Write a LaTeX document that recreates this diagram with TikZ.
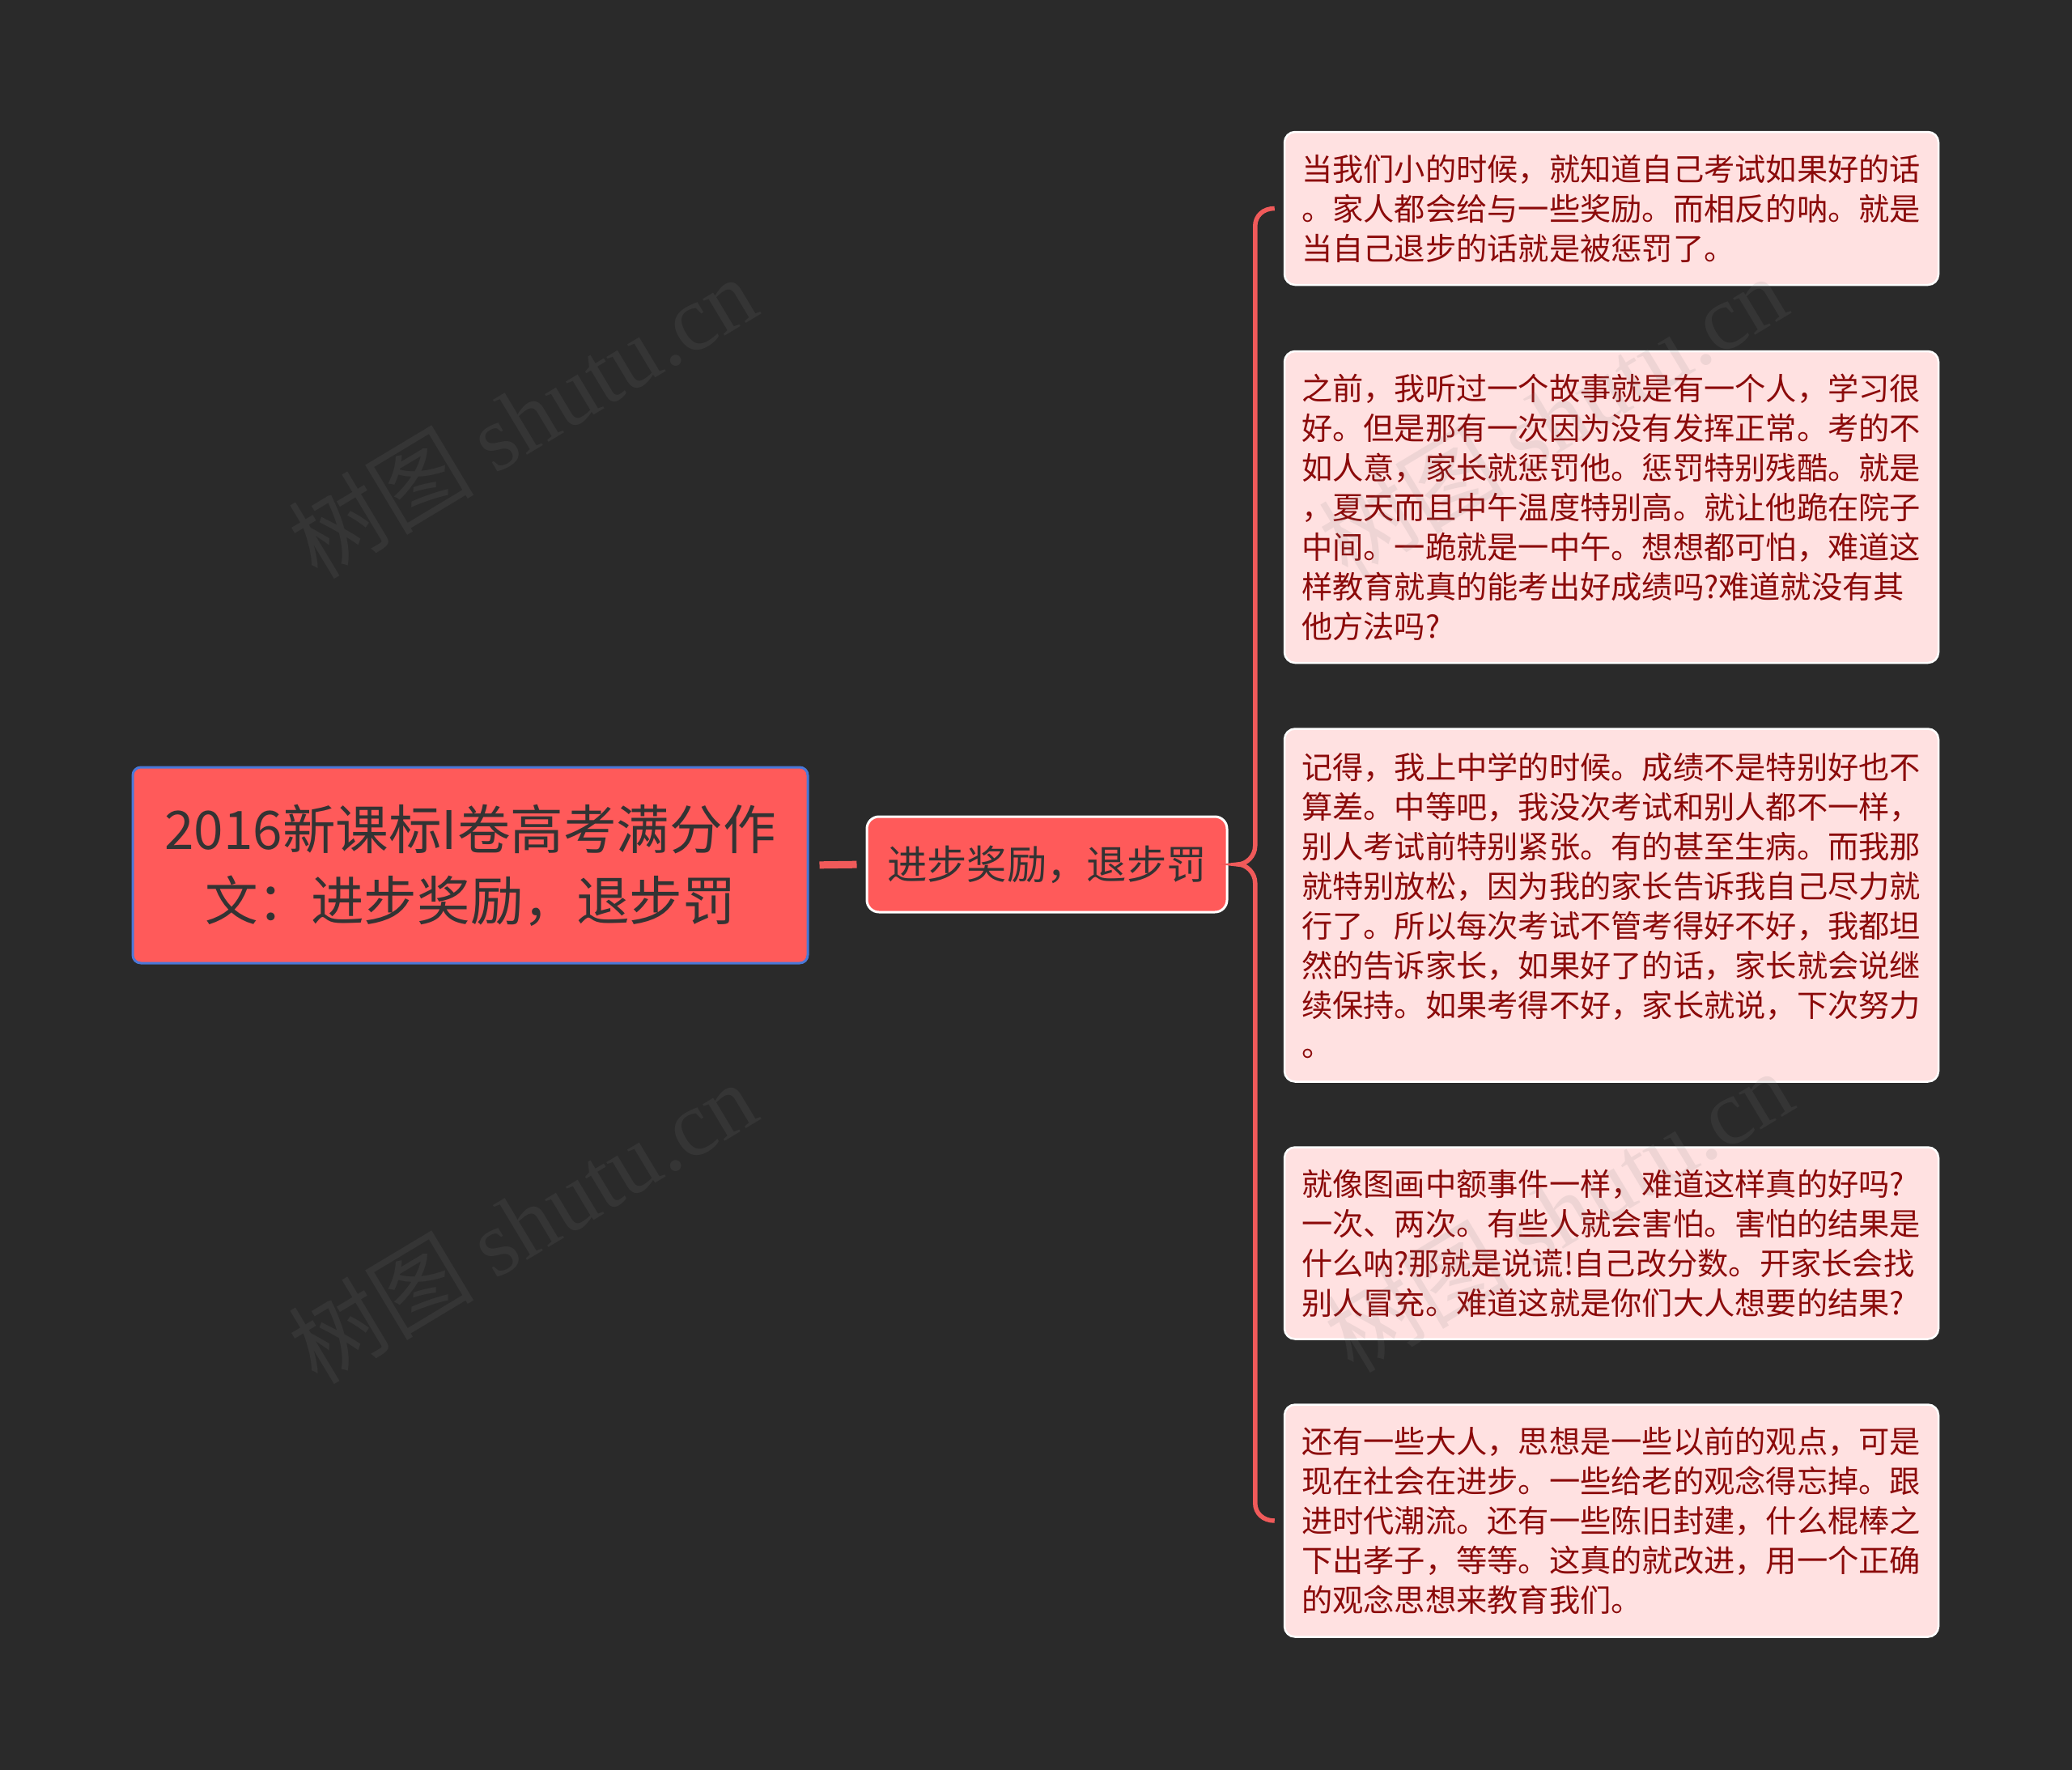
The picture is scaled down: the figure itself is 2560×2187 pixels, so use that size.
\documentclass[tikz,border=0pt]{standalone}
\usepackage{fontspec}
\setmainfont{Noto Sans CJK SC}
\newfontfamily\wmserif{Liberation Serif}
\usetikzlibrary{calc}
\definecolor{bg}{HTML}{2A2A2A}
\definecolor{coral}{HTML}{FF5A5A}
\definecolor{rootborder}{HTML}{4A78D8}
\definecolor{leaffill}{HTML}{FFE1E1}
\definecolor{leaftext}{HTML}{8B0A0A}
\definecolor{darktext}{HTML}{333333}
\definecolor{linkred}{HTML}{F05A5A}
\begin{document}
\begin{tikzpicture}[x=1pt,y=-1pt,
 rootbox/.style={draw=rootborder, line width=3, fill=coral, rounded corners=10, minimum width=834, minimum height=242, align=center, text=darktext, font=\fontsize{65.6}{88}\selectfont, inner sep=0},
 subbox/.style={draw=white, line width=3, fill=coral, rounded corners=15, minimum width=445, minimum height=118, text=darktext, font=\fontsize{49.3}{60}\selectfont, inner sep=0},
 leafbox/.style={draw=white, line width=2.5, fill=leaffill, rounded corners=13, text width=766, inner xsep=21, inner ysep=0, align=left, text=leaftext, font=\fontsize{38.25}{49}\selectfont},
 link/.style={draw=linkred, line width=9},
 brace/.style={draw=linkred, line width=5.5},
 wm/.style={rotate=31, text=gray, opacity=0.13, font=\fontsize{115}{115}\selectfont}
]
\fill[bg] (0,0) rectangle (2560,2187);
\useasboundingbox (0,0) rectangle (2560,2187);

\node[rootbox] (root) at (581,1069) {2016新课标I卷高考满分作\\文：进步奖励，退步罚};
\node[subbox] (sub) at (1293.5,1068) {进步奖励，退步罚};

\node[leafbox, minimum height=189] (l1) at (1991,257.5) {当我们小的时候，就知道自己考试如果好的话\\。家人都会给与一些奖励。而相反的呐。就是\\当自己退步的话就是被惩罚了。};
\node[leafbox, minimum height=385] (l2) at (1991,626.5) {之前，我听过一个故事就是有一个人，学习很\\好。但是那有一次因为没有发挥正常。考的不\\如人意，家长就惩罚他。惩罚特别残酷。就是\\，夏天而且中午温度特别高。就让他跪在院子\\中间。一跪就是一中午。想想都可怕，难道这\\样教育就真的能考出好成绩吗?难道就没有其\\他方法吗?};
\node[leafbox, minimum height=436] (l3) at (1991,1118.5) {记得，我上中学的时候。成绩不是特别好也不\\算差。中等吧，我没次考试和别人都不一样，\\别人考试前特别紧张。有的甚至生病。而我那\\就特别放松，因为我的家长告诉我自己尽力就\\行了。所以每次考试不管考得好不好，我都坦\\然的告诉家长，如果好了的话，家长就会说继\\续保持。如果考得不好，家长就说，下次努力\\。};
\node[leafbox, minimum height=237] (l4) at (1991,1536) {就像图画中额事件一样，难道这样真的好吗?\\一次、两次。有些人就会害怕。害怕的结果是\\什么呐?那就是说谎!自己改分数。开家长会找\\别人冒充。难道这就是你们大人想要的结果?};
\node[leafbox, minimum height=287] (l5) at (1991,1879) {还有一些大人，思想是一些以前的观点，可是\\现在社会在进步。一些给老的观念得忘掉。跟\\进时代潮流。还有一些陈旧封建，什么棍棒之\\下出孝子，等等。这真的就改进，用一个正确\\的观念思想来教育我们。};

\draw[link, shorten <=13, shorten >=11] (root.east) -- (sub.west);

\coordinate (b1) at ($(l1.west)+(-11,0)$);
\coordinate (v1) at ($(l1.west)+(-35,22)$);
\coordinate (cusp) at ($(sub.east)+(12,0)$);
\coordinate (va) at ($(v1|-cusp)+(0,-23)$);
\coordinate (vb) at ($(v1|-cusp)+(0,23)$);
\coordinate (v5) at ($(l5.west)+(-35,-22)$);
\coordinate (b5) at ($(l5.west)+(-11,0)$);
\draw[brace] (b1) .. controls +(-14,0) and +(0,-13) .. (v1) -- (va)
  .. controls +(0,13) and +(10,0) .. (cusp)
  .. controls +(10,0) and +(0,-13) .. (vb) -- (v5)
  .. controls +(0,13) and +(-14,0) .. (b5);

\node[wm] (wm1) at (645,515) {树图 {\wmserif shutu.cn}};
\node[wm] (wm2) at (645,1510) {树图 {\wmserif shutu.cn}};
\node[wm] (wm3) at (1918,514) {树图 {\wmserif shutu.cn}};
\node[wm] (wm4) at (1925,1496) {树图 {\wmserif shutu.cn}};
\end{tikzpicture}
\end{document}
